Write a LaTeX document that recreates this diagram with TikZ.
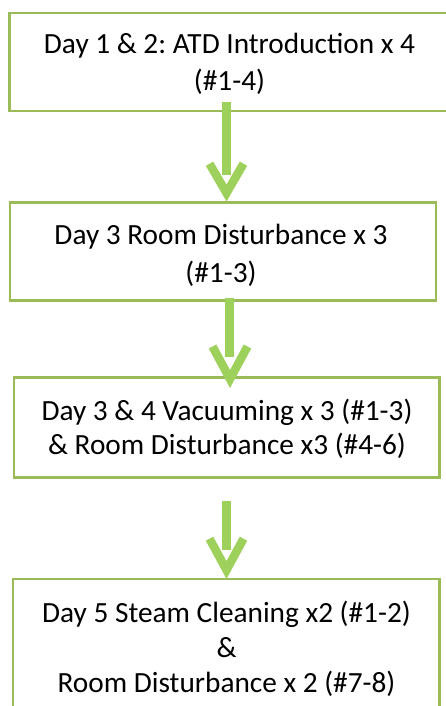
\documentclass[tikz,border=0pt]{standalone}
\usepackage{fontspec}
\setmainfont{Carlito}
\frenchspacing
\definecolor{boxgreen}{RGB}{155,187,89}
\definecolor{arrowgreen}{RGB}{158,208,92}
\begin{document}
\begin{tikzpicture}[x=1pt,y=-1pt,
  box/.style={draw=boxgreen, line width=2.5pt, rectangle, inner sep=0pt},
  boxtext/.style={anchor=base, inner sep=0pt, text=black},
  shaftline/.style={draw=arrowgreen, line width=9pt, line cap=butt},
  headline/.style={draw=arrowgreen, line width=8.5pt, line cap=butt, line join=miter}]
\useasboundingbox (0,0) rectangle (446,706);
\clip (0,0) rectangle (446,706);
% boxes
\node[box, minimum width=439pt, minimum height=98pt] (b1) at (229,61.8) {};
\node[box, minimum width=426.4pt, minimum height=97.8pt] (b2) at (223,251.4) {};
\node[box, minimum width=425.7pt, minimum height=99.8pt] (b3) at (226.85,427.4) {};
\node[box, minimum width=426.7pt, minimum height=161pt] (b4) at (226.35,659.5) {};
% texts
\node[boxtext] (t1) at (229.5,54) {\fontsize{29.3}{36.5}\selectfont\begin{tabular}[t]{@{}c@{}}Day 1 \& 2: ATD Introduction x 4\\(\#1-4)\end{tabular}};
\node[boxtext] (t2) at (221,244.3) {\fontsize{29.3}{38}\selectfont\begin{tabular}[t]{@{}c@{}}Day 3 Room Disturbance x 3\\(\#1-3)\end{tabular}};
\node[boxtext] (t3) at (227,420) {\fontsize{29.3}{34}\selectfont\begin{tabular}[t]{@{}c@{}}Day 3 \& 4 Vacuuming x 3 (\#1-3)\\\& Room Disturbance x3 (\#4-6)\end{tabular}};
\node[boxtext] (t4) at (226.5,622) {\fontsize{29.3}{35}\selectfont\begin{tabular}[t]{@{}c@{}}Day 5 Steam Cleaning x2 (\#1-2)\\\&\\Room Disturbance x 2 (\#7-8)\end{tabular}};
% arrow coordinates
\coordinate (a1s) at (226.5,102.3);
\coordinate (a1e) at (226.5,175);
\coordinate (a1l) at (209.5,163.7);
\coordinate (a1t) at (226.5,193);
\coordinate (a1r) at (243.5,163.7);
\coordinate (a2s) at (229.8,297.7);
\coordinate (a2e) at (229.8,357);
\coordinate (a2l) at (212.5,346.5);
\coordinate (a2t) at (230,379);
\coordinate (a2r) at (247.5,346.5);
\coordinate (a3s) at (226.3,501);
\coordinate (a3e) at (226.3,550);
\coordinate (a3l) at (209.5,538.7);
\coordinate (a3t) at (226.5,570);
\coordinate (a3r) at (243.5,538.7);
% arrows
\draw[shaftline] (a1s) -- (a1e);
\draw[headline] (a1l) -- (a1t) -- (a1r);
\draw[shaftline] (a2s) -- (a2e);
\draw[headline] (a2l) -- (a2t) -- (a2r);
\draw[shaftline] (a3s) -- (a3e);
\draw[headline] (a3l) -- (a3t) -- (a3r);
\end{tikzpicture}
\end{document}
